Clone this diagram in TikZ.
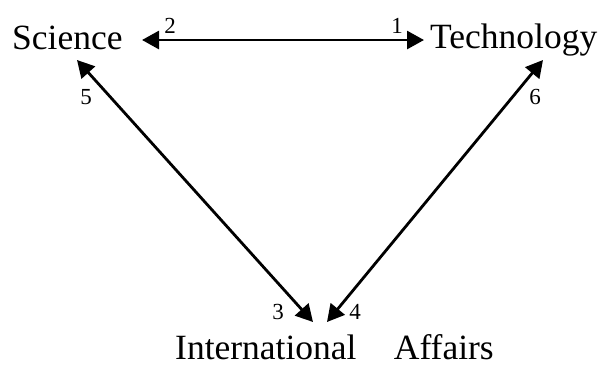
\documentclass[tikz,border=0pt]{standalone}
\usepackage{fontspec}
\setmainfont{Liberation Serif}
\usetikzlibrary{arrows.meta}

\begin{document}
\begin{tikzpicture}[x=1pt,y=-1pt,
  field/.style={inner sep=0pt,anchor=base west,font=\fontsize{35.5}{40}\selectfont},
  num/.style={inner sep=0pt,font=\fontsize{23}{26}\selectfont},
  link/.style={{Triangle[length=17pt,width=18pt]}-{Triangle[length=17pt,width=18pt]},line width=2.8pt}]
\useasboundingbox (0,0) rectangle (603,365);

\node[field] (sci) at (12,49) {Science};
\node[field] (tech) at (430,48) {Technology};
\node[field] (ia) at (175,359) {International\hskip1.05em Affairs};

% arrows between the three fields
\draw[link] ([shift={(130,-9)}]sci.base west) -- ([shift={(-6,-8)}]tech.base west);
\draw[link] ([shift={(65,11)}]sci.base west) -- ([shift={(138,-37)}]ia.base west);
\draw[link] ([shift={(113,12)}]tech.base west) -- ([shift={(152,-37)}]ia.base west);

% end numbers
\node[num] (n1) at (397,26) {1};
\node[num] (n2) at (170,26) {2};
\node[num] (n3) at (278,312) {3};
\node[num] (n4) at (355,312) {4};
\node[num] (n5) at (86,97) {5};
\node[num] (n6) at (535,97) {6};
\end{tikzpicture}
\end{document}
